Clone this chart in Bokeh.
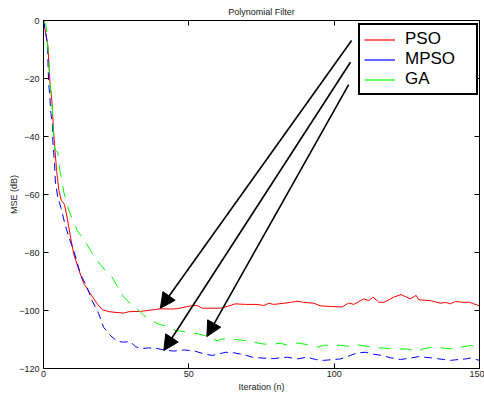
from bokeh.plotting import figure
from bokeh.models import (Range1d, LinearAxis, FixedTicker, Legend, LegendItem,
                          Arrow, NormalHead)
from bokeh.embed import file_html
from bokeh.resources import INLINE

# ---------------- data ----------------
pso_x = [0, 1.5, 2.2, 3, 3.5, 4.5, 5.3, 6.1, 7.2, 8.1, 9.3, 10.4, 12.2, 13.9, 16.2,
         18.5, 20.2, 22.5, 25.3, 27.6, 29.4, 33.4, 37.4, 40.2, 43.7, 46, 50.6, 52.9,
         54.6, 60.9, 63.2, 66, 69.5, 73.5, 75.8, 77.5, 79.2, 82.7, 85, 87.3, 89.5,
         93, 95.3, 98.7, 102.7, 105, 106.7, 110.2, 111.9, 113.4, 115.3, 117.1, 119.4,
         120.5, 123, 126.2, 128.2, 129.1, 133.1, 136.6, 138.3, 140, 141.7, 144.6,
         146.3, 147.5, 150]
pso_y = [0, -8.6, -21, -29, -39, -51.7, -58.6, -62, -63.4, -67.8, -74.7, -80.5, -86.2,
         -90.8, -94.3, -97.7, -99.7, -100.4, -100.7, -100.9, -100.4, -100.3, -99.8,
         -99.4, -99.5, -99.4, -98.4, -98.3, -99.2, -99.2, -98.6, -97.7, -97.9, -97.9,
         -98.3, -97.5, -97.9, -97.5, -97.2, -96.8, -97.2, -97.5, -98.4, -98.6, -98.8,
         -97.4, -97.9, -96.0, -96.6, -95.4, -97.1, -97.2, -96.0, -95.4, -94.5, -96.0,
         -94.8, -96.3, -96.6, -97.5, -97.2, -97.7, -96.9, -97.2, -97.1, -97.5, -98.4]

mpso_x = [0, 1.3, 1.5, 1.6, 1.8, 2.2, 2.5, 3.1, 3.2, 3.8, 4.1, 4.9, 6.1, 7.2, 8.7, 10.4,
          12.7, 15, 16.7, 19, 20.7, 23, 25.3, 27.6, 29.9, 31.6, 33.9, 36.2, 39.1, 41.4,
          44.8, 48.3, 51.7, 55.1, 58, 61.5, 62.6, 65.5, 68.9, 71.8, 75.2, 79.2, 81.5,
          83.8, 87.3, 90.7, 93.6, 96.4, 99.9, 102.2, 105.6, 107.9, 110.8, 113.1, 116.5,
          119.4, 122.8, 126.2, 129.1, 133.1, 137.7, 140, 142.9, 145.2, 146.9, 150]
mpso_y = [0, -7.5, -12.6, -16.5, -21.8, -26.4, -31.6, -36.2, -41.4, -49.4, -55.7, -60.9,
          -64.9, -69.5, -74.7, -79.3, -87.4, -92, -96.6, -101.1, -105.8, -108.6, -110.6,
          -110.9, -110.7, -112.5, -113.1, -112.9, -113.1, -113.6, -114, -113.6, -113.9,
          -114.9, -115.5, -114.7, -114.4, -114.6, -115.2, -116.1, -116.4, -116.6, -116.3,
          -116.1, -116.7, -116.1, -116.9, -117.2, -116.9, -116.7, -115.5, -114.6, -114.4,
          -115.0, -115.5, -116.3, -116.9, -116.4, -115.9, -116.3, -116.9, -117.2, -116.9,
          -116.7, -116.4, -117.2]

ga_x = [0, 0.9, 1.3, 1.8, 2.2, 2.8, 3.3, 3.5, 4.1, 4.9, 5.6, 6.1, 7, 8.7, 11, 11.6, 14.4,
        16.2, 17.9, 21.3, 23, 25.3, 27.6, 29.4, 33.4, 34.5, 39.1, 42.6, 45.4, 50.6, 52.9,
        56.9, 59.8, 61.5, 63.2, 68.9, 70.6, 75.2, 78.1, 81.5, 83.8, 87.3, 91, 94.1, 96.4,
        101, 104.5, 106.2, 107.9, 113.1, 119.4, 125.1, 128.5, 130.8, 133.7, 140, 142.3,
        146.9, 150]
ga_y = [0, -1.7, -7.5, -13.2, -21.3, -27, -35, -42.5, -44.8, -45.4, -51.7, -54, -59.2,
        -65.5, -70.7, -72.4, -76.4, -79.3, -82.2, -86.2, -87.4, -91.6, -95.4, -97.1,
        -100.6, -101.7, -104.5, -105.6, -106.9, -107.5, -108, -109, -110.5, -109.8,
        -109.7, -110.3, -110.5, -111.5, -111.7, -111.3, -111.9, -111.2, -111.8, -112.7,
        -112, -111.9, -112.3, -112.4, -111.8, -112.6, -113.2, -113.3, -114.1, -113.2,
        -112.6, -113.2, -112.8, -112.1, -112.6]

series_names = ["PSO", "MPSO", "GA"]

arrow_x_start = [106.0, 105.6, 105.0]
arrow_y_start = [-6.9, -14.4, -22.1]
arrow_x_end = [40.2, 41.4, 56.2]
arrow_y_end = [-99.2, -113.8, -109.0]

x_ticks = [0, 50, 100, 150]
y_ticks = [-120, -100, -80, -60, -40, -20, 0]

FONT = "Liberation Sans"
NAN = float("nan")

# ---------------- figure ----------------
p = figure(width=484, height=396, output_backend="svg", toolbar_location=None,
           x_range=Range1d(0, 150), y_range=Range1d(-120, 0),
           min_border_left=43, min_border_right=5, min_border_top=0,
           min_border_bottom=28, title="Polynomial Filter")
p.title.text_font = FONT
p.title.text_font_size = "9px"
p.title.text_font_style = "normal"
p.title.align = "center"
p.title.text_color = "#222222"
p.title.standoff = 8
p.title.offset = 0

p.xgrid.visible = False
p.ygrid.visible = False
p.outline_line_color = "black"
p.outline_line_width = 1
p.background_fill_color = "white"
p.border_fill_color = "white"

def style_axis(ax, ticks, labels=True):
    ax.ticker = FixedTicker(ticks=ticks)
    ax.minor_tick_line_color = None
    ax.major_tick_in = 5
    ax.major_tick_out = 0
    ax.major_tick_line_color = "black"
    ax.axis_line_color = "black"
    ax.major_label_text_font = FONT
    ax.major_label_text_font_size = "9px"
    ax.major_label_text_color = "#222222" if labels else None
    ax.axis_label_text_font = FONT
    ax.axis_label_text_font_size = "9px"
    ax.axis_label_text_font_style = "normal"
    ax.axis_label_text_color = "#222222"

style_axis(p.xaxis[0], x_ticks)
style_axis(p.yaxis[0], y_ticks)
p.xaxis[0].axis_label = "Iteration (n)"
p.xaxis[0].major_label_standoff = 2
p.xaxis[0].axis_label_standoff = 2
p.yaxis[0].axis_label = "MSE (dB)"
p.yaxis[0].major_label_standoff = 4
p.yaxis[0].axis_label_standoff = -3

top_ax = LinearAxis()
style_axis(top_ax, x_ticks, labels=False)
top_ax.major_label_standoff = 0
p.add_layout(top_ax, "above")
right_ax = LinearAxis()
style_axis(right_ax, y_ticks, labels=False)
right_ax.major_label_standoff = 0
p.add_layout(right_ax, "right")

# ---------------- curves ----------------
p.line(pso_x, pso_y, line_color="#ff0000", line_width=1)
p.line(mpso_x, mpso_y, line_color="#0000ff", line_width=1, line_dash="8 5")
p.line(ga_x, ga_y, line_color="#00ff00", line_width=1, line_dash="12 9")

# legend samples (solid lines, as in the reference legend)
colors = ["#ff0000", "#0000ff", "#00ff00"]
items = []
for name, c in zip(series_names, colors):
    r = p.line([NAN], [NAN], line_color=c, line_width=1.2)
    items.append(LegendItem(label=name, renderers=[r]))

legend = Legend(items=items, location=(315, 273),
                label_text_font=FONT, label_text_font_size="17px",
                label_text_color="black",
                glyph_width=31, glyph_height=19, label_height=19,
                label_standoff=10, label_width=67, spacing=0, padding=4,
                border_line_color="black", border_line_width=2,
                border_line_alpha=1.0,
                background_fill_color="white", background_fill_alpha=1,
                margin=0)
p.add_layout(legend, "center")

# ---------------- arrows ----------------
for xs, ys, xe, ye in zip(arrow_x_start, arrow_y_start, arrow_x_end, arrow_y_end):
    p.add_layout(Arrow(end=NormalHead(size=15, fill_color="black", line_color="black"),
                       x_start=xs, y_start=ys, x_end=xe, y_end=ye,
                       line_color="black", line_width=1.6))

open("out.html", "w").write(file_html(p, INLINE))
